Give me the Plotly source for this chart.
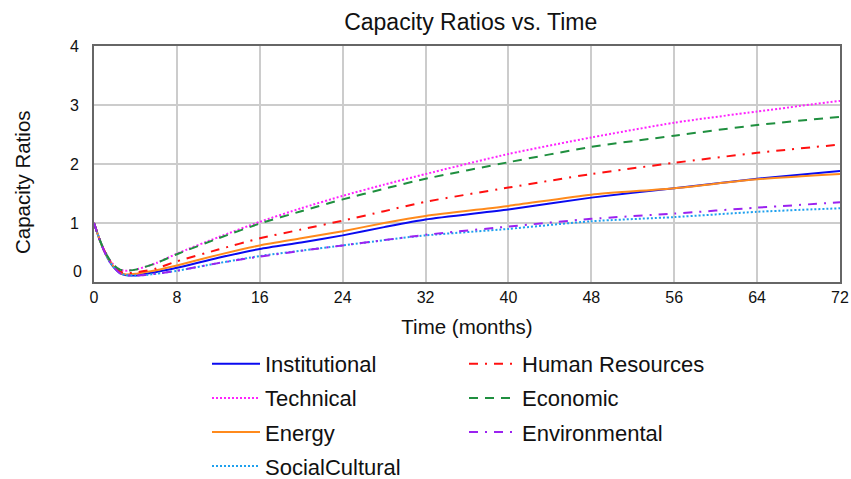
import plotly.graph_objects as go

# ---- data ----
time = [0, 0.5, 1, 1.5, 2, 2.5, 3, 4, 5, 6, 8, 12, 16, 20, 24, 28, 32, 40, 48, 56, 64, 72]

institutional = [1.0, 0.74, 0.52, 0.35, 0.23, 0.15, 0.12, 0.11, 0.14, 0.17, 0.24, 0.41, 0.56, 0.67, 0.79, 0.93, 1.06, 1.23, 1.43, 1.59, 1.75, 1.88]
technical = [1.0, 0.74, 0.53, 0.38, 0.27, 0.21, 0.19, 0.21, 0.26, 0.32, 0.48, 0.76, 1.02, 1.25, 1.46, 1.65, 1.83, 2.17, 2.45, 2.70, 2.89, 3.07]
energy = [1.0, 0.74, 0.52, 0.36, 0.24, 0.16, 0.13, 0.14, 0.17, 0.20, 0.28, 0.46, 0.62, 0.74, 0.86, 1.00, 1.12, 1.29, 1.48, 1.59, 1.74, 1.83]
social_cultural = [1.0, 0.74, 0.52, 0.35, 0.23, 0.15, 0.12, 0.11, 0.12, 0.14, 0.19, 0.32, 0.44, 0.53, 0.62, 0.71, 0.79, 0.90, 1.03, 1.10, 1.19, 1.25]
human_resources = [1.0, 0.74, 0.53, 0.37, 0.25, 0.18, 0.15, 0.16, 0.19, 0.23, 0.35, 0.55, 0.74, 0.89, 1.04, 1.20, 1.36, 1.60, 1.83, 2.02, 2.19, 2.33]
economic = [1.0, 0.74, 0.53, 0.38, 0.27, 0.21, 0.19, 0.21, 0.26, 0.32, 0.47, 0.74, 0.99, 1.20, 1.40, 1.58, 1.75, 2.03, 2.29, 2.48, 2.66, 2.80]
environmental = [1.0, 0.74, 0.52, 0.35, 0.23, 0.15, 0.12, 0.11, 0.12, 0.14, 0.19, 0.32, 0.43, 0.53, 0.62, 0.71, 0.80, 0.94, 1.07, 1.16, 1.26, 1.35]

x_ticks = [0, 8, 16, 24, 32, 40, 48, 56, 64, 72]
y_ticks = [0, 1, 2, 3, 4]

series = [
    # name, values, color, dash, legend
    ("Institutional", institutional, "#0a0af0", "solid", "legend"),
    ("Technical", technical, "#ff22ff", "2px,2px", "legend"),
    ("Energy", energy, "#ff8a1c", "solid", "legend"),
    ("SocialCultural", social_cultural, "#1ea0ee", "2px,2px", "legend"),
    ("Human Resources", human_resources, "#ff1010", "9px,7px,2px,7px", "legend2"),
    ("Economic", economic, "#1f8f3f", "9px,7px", "legend2"),
    ("Environmental", environmental, "#9b22f0", "9px,7px,2px,7px", "legend2"),
]

FONT = "Liberation Sans, Arial, sans-serif"
W, H = 851, 479
plot_left, plot_right, plot_top, plot_bottom = 94, 840, 46, 282

fig = go.Figure()
for name, vals, color, dash, leg in series:
    fig.add_trace(go.Scatter(
        x=time, y=vals, mode="lines", name=name,
        line=dict(color=color, width=2, dash=dash, shape="spline", smoothing=0.6),
        legend=leg, legendgroup=name,
    ))

legend_common = dict(
    font=dict(family=FONT, size=22, color="#111"),
    bgcolor="rgba(0,0,0,0)",
    traceorder="grouped",
    tracegroupgap=2.5,
    orientation="v",
    itemwidth=48,
    xref="container", yref="container",
    yanchor="top",
    xanchor="left",
    y=1 - 343 / H,
)

fig.update_layout(
    width=W, height=H,
    margin=dict(l=plot_left, r=W - plot_right, t=plot_top, b=H - plot_bottom, autoexpand=False),
    paper_bgcolor="white",
    plot_bgcolor="white",
    font=dict(family=FONT, color="#111"),
    title=dict(text="Capacity Ratios vs. Time", x=0.505, xref="paper", xanchor="center",
               y=1 - 22 / H, yref="container", yanchor="middle",
               font=dict(family=FONT, size=23, color="#111")),
    xaxis=dict(range=[0, 72], tickvals=x_ticks, ticktext=[str(v) for v in x_ticks],
               showgrid=True, gridcolor="#cccccc", gridwidth=2,
               showline=True, linecolor="#666666", linewidth=2, mirror=True,
               ticks="", ticklabelstandoff=0, zeroline=False, automargin=False,
               tickfont=dict(family=FONT, size=16, color="#111"),
               title=dict(text="Time (months)", standoff=14,
                          font=dict(family=FONT, size=20.5, color="#111"))),
    yaxis=dict(range=[0, 4], tickvals=y_ticks, ticktext=["" if v == 0 else str(v) for v in y_ticks],
               showgrid=True, gridcolor="#cccccc", gridwidth=2,
               showline=True, linecolor="#666666", linewidth=2, mirror=True,
               ticks="", ticklabelstandoff=10, zeroline=False, automargin=False,
               tickfont=dict(family=FONT, size=16, color="#111")),
    legend=dict(x=207 / W, **legend_common),
    legend2=dict(x=464 / W, **legend_common),
    annotations=[
        dict(text="0", x=0, xref="paper", y=0, yref="y", xanchor="right", yanchor="middle",
             xshift=-10, yshift=11, showarrow=False,
             font=dict(family=FONT, size=16, color="#111")),
        dict(text="Capacity Ratios", x=(22 - plot_left) / (plot_right - plot_left), xref="paper",
             y=(plot_bottom - 182) / (plot_bottom - plot_top), yref="paper",
             textangle=-90, showarrow=False, xanchor="center", yanchor="middle",
             font=dict(family=FONT, size=20.5, color="#111")),
    ],
)

# remove the browser's default 8px page margin so the figure sits at the window's corner
fig.write_html("out.html", config={"displayModeBar": False},
               post_script="document.body.style.margin='0px';")
